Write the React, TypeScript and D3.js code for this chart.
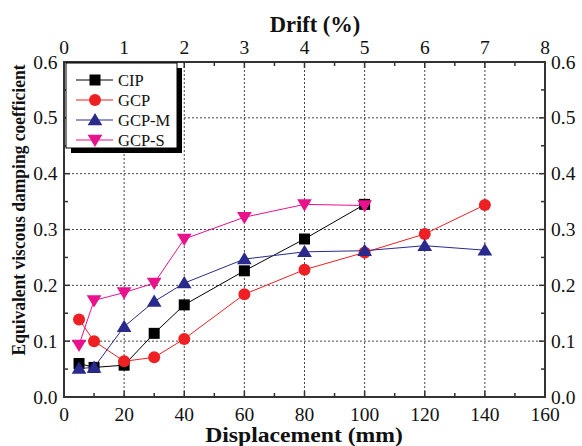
import React from "react";
import * as d3 from "d3";

const displacement = [5, 10, 20, 30, 40, 60, 80, 100, 120, 140];
const cipValues = [0.06, 0.053, 0.057, 0.114, 0.165, 0.226, 0.283, 0.345];
const gcpValues = [0.139, 0.1, 0.064, 0.071, 0.104, 0.184, 0.228, 0.259, 0.292, 0.344];
const gcpMValues = [0.051, 0.053, 0.126, 0.171, 0.204, 0.247, 0.26, 0.262, 0.271, 0.263];
const gcpSValues = [0.093, 0.173, 0.187, 0.204, 0.283, 0.322, 0.345, 0.343];
const seriesNames = ["CIP", "GCP", "GCP-M", "GCP-S"];
const xTicks = [0, 20, 40, 60, 80, 100, 120, 140, 160];
const driftTicks = [0, 1, 2, 3, 4, 5, 6, 7, 8];
const yTicks = [0, 0.1, 0.2, 0.3, 0.4, 0.5, 0.6];

const colors = ["#000000", "#ee2024", "#2a2a8c", "#e8128c"];
const shapes = ["square", "circle", "up", "down"];

const W = 582, H = 446;
const L = 64, R = 545, T = 62, B = 397;

function Marker({ shape, x, y, color }: { shape: string; x: number; y: number; color: string }) {
  if (shape === "square") return <rect x={x - 5.5} y={y - 5.5} width={11} height={11} fill={color} />;
  if (shape === "circle") return <circle cx={x} cy={y} r={6} fill={color} />;
  const s = 7;
  if (shape === "up")
    return <path d={`M${x},${y - s}L${x + s * 1.05},${y + s * 0.75}L${x - s * 1.05},${y + s * 0.75}Z`} fill={color} />;
  return <path d={`M${x},${y + s}L${x + s * 1.05},${y - s * 0.75}L${x - s * 1.05},${y - s * 0.75}Z`} fill={color} />;
}

export default function App() {
  const x = d3.scaleLinear().domain([0, 160]).range([L, R]);
  const xd = d3.scaleLinear().domain([0, 8]).range([L, R]);
  const y = d3.scaleLinear().domain([0, 0.6]).range([B, T]);
  const all = [cipValues, gcpValues, gcpMValues, gcpSValues];
  const line = d3
    .line<[number, number]>()
    .x((d) => x(d[0]))
    .y((d) => y(d[1]));
  const font = "'Liberation Serif', 'Times New Roman', serif";
  const axisColor = "#333";
  const minorX = d3.range(10, 160, 20);
  const minorY = d3.range(0.05, 0.6, 0.1);

  return (
    <svg width={W} height={H} style={{ position: "absolute", left: 0, top: 0 }} fontFamily={font}>
      <rect width={W} height={H} fill="#fff" />
      {/* grid */}
      {xTicks.slice(1, -1).map((t) => (
        <line key={"gx" + t} x1={x(t)} x2={x(t)} y1={T} y2={B} stroke="#444" strokeWidth={1} strokeDasharray="2,2" />
      ))}
      {yTicks.slice(1, -1).map((t) => (
        <line key={"gy" + t} x1={L} x2={R} y1={y(t)} y2={y(t)} stroke="#444" strokeWidth={1} strokeDasharray="2,2" />
      ))}
      {/* ticks */}
      {xTicks.map((t) => (
        <line key={"tx" + t} x1={x(t)} x2={x(t)} y1={B} y2={B - 6} stroke={axisColor} strokeWidth={1.5} />
      ))}
      {minorX.map((t) => (
        <g key={"mx" + t}>
          <line x1={x(t)} x2={x(t)} y1={B} y2={B - 4} stroke={axisColor} strokeWidth={1.5} />
          <line x1={x(t)} x2={x(t)} y1={T} y2={T + 4} stroke={axisColor} strokeWidth={1.5} />
        </g>
      ))}
      {driftTicks.map((t) => (
        <line key={"td" + t} x1={xd(t)} x2={xd(t)} y1={T} y2={T + 6} stroke={axisColor} strokeWidth={1.5} />
      ))}
      {yTicks.map((t) => (
        <g key={"ty" + t}>
          <line x1={L} x2={L + 6} y1={y(t)} y2={y(t)} stroke={axisColor} strokeWidth={1.5} />
          <line x1={R} x2={R - 6} y1={y(t)} y2={y(t)} stroke={axisColor} strokeWidth={1.5} />
        </g>
      ))}
      {minorY.map((t) => (
        <g key={"my" + t}>
          <line x1={L} x2={L + 4} y1={y(t)} y2={y(t)} stroke={axisColor} strokeWidth={1.5} />
          <line x1={R} x2={R - 4} y1={y(t)} y2={y(t)} stroke={axisColor} strokeWidth={1.5} />
        </g>
      ))}
      {/* frame */}
      <rect x={L} y={T} width={R - L} height={B - T} fill="none" stroke={axisColor} strokeWidth={2} />
      {/* series */}
      {all.map((vals, i) => {
        const pts = vals.map((v, j) => [displacement[j], v] as [number, number]);
        return (
          <g key={"s" + i}>
            <path d={line(pts) || ""} fill="none" stroke={colors[i]} strokeWidth={1} />
            {pts.map((p, j) => (
              <Marker key={j} shape={shapes[i]} x={x(p[0])} y={y(p[1])} color={colors[i]} />
            ))}
          </g>
        );
      })}
      {/* tick labels */}
      {xTicks.map((t) => (
        <text key={"lx" + t} x={x(t)} y={421} fontSize={19.5} textAnchor="middle" fill="#111">
          {t}
        </text>
      ))}
      {driftTicks.map((t) => (
        <text key={"ld" + t} x={xd(t)} y={54} fontSize={19.5} textAnchor="middle" fill="#111">
          {t}
        </text>
      ))}
      {yTicks.map((t) => (
        <g key={"ly" + t}>
          <text x={57.5} y={y(t) + 6.5} fontSize={19.5} textAnchor="end" fill="#111">
            {t.toFixed(1)}
          </text>
          <text x={551} y={y(t) + 6.5} fontSize={19.5} textAnchor="start" fill="#111">
            {t.toFixed(1)}
          </text>
        </g>
      ))}
      {/* titles */}
      <text x={315} y={32} fontSize={22.5} fontWeight="bold" textAnchor="middle" fill="#111">
        Drift (%)
      </text>
      <text
        transform={`translate(304,441.5) scale(1.1,1)`}
        fontSize={21.5}
        fontWeight="bold"
        textAnchor="middle"
        fill="#111"
      >
        Displacement (mm)
      </text>
      <text
        transform={`translate(25,210) rotate(-90) scale(1,1.12)`}
        fontSize={17.5}
        fontWeight="bold"
        textAnchor="middle"
        fill="#111"
      >
        Equivalent viscous damping coefficient
      </text>
      {/* legend */}
      <rect x={71} y={68} width={111} height={85} fill="#000" />
      <rect x={66} y={63} width={111} height={85} fill="#fff" stroke="#000" strokeWidth={1} />
      {seriesNames.map((n, i) => {
        const ly = 80 + i * 20;
        return (
          <g key={"lg" + i}>
            <line x1={76} x2={113} y1={ly} y2={ly} stroke={colors[i]} strokeWidth={1} />
            <Marker shape={shapes[i]} x={95} y={ly} color={colors[i]} />
            <text x={118} y={ly + 5.5} fontSize={16.5} fill="#111">
              {n}
            </text>
          </g>
        );
      })}
    </svg>
  );
}
